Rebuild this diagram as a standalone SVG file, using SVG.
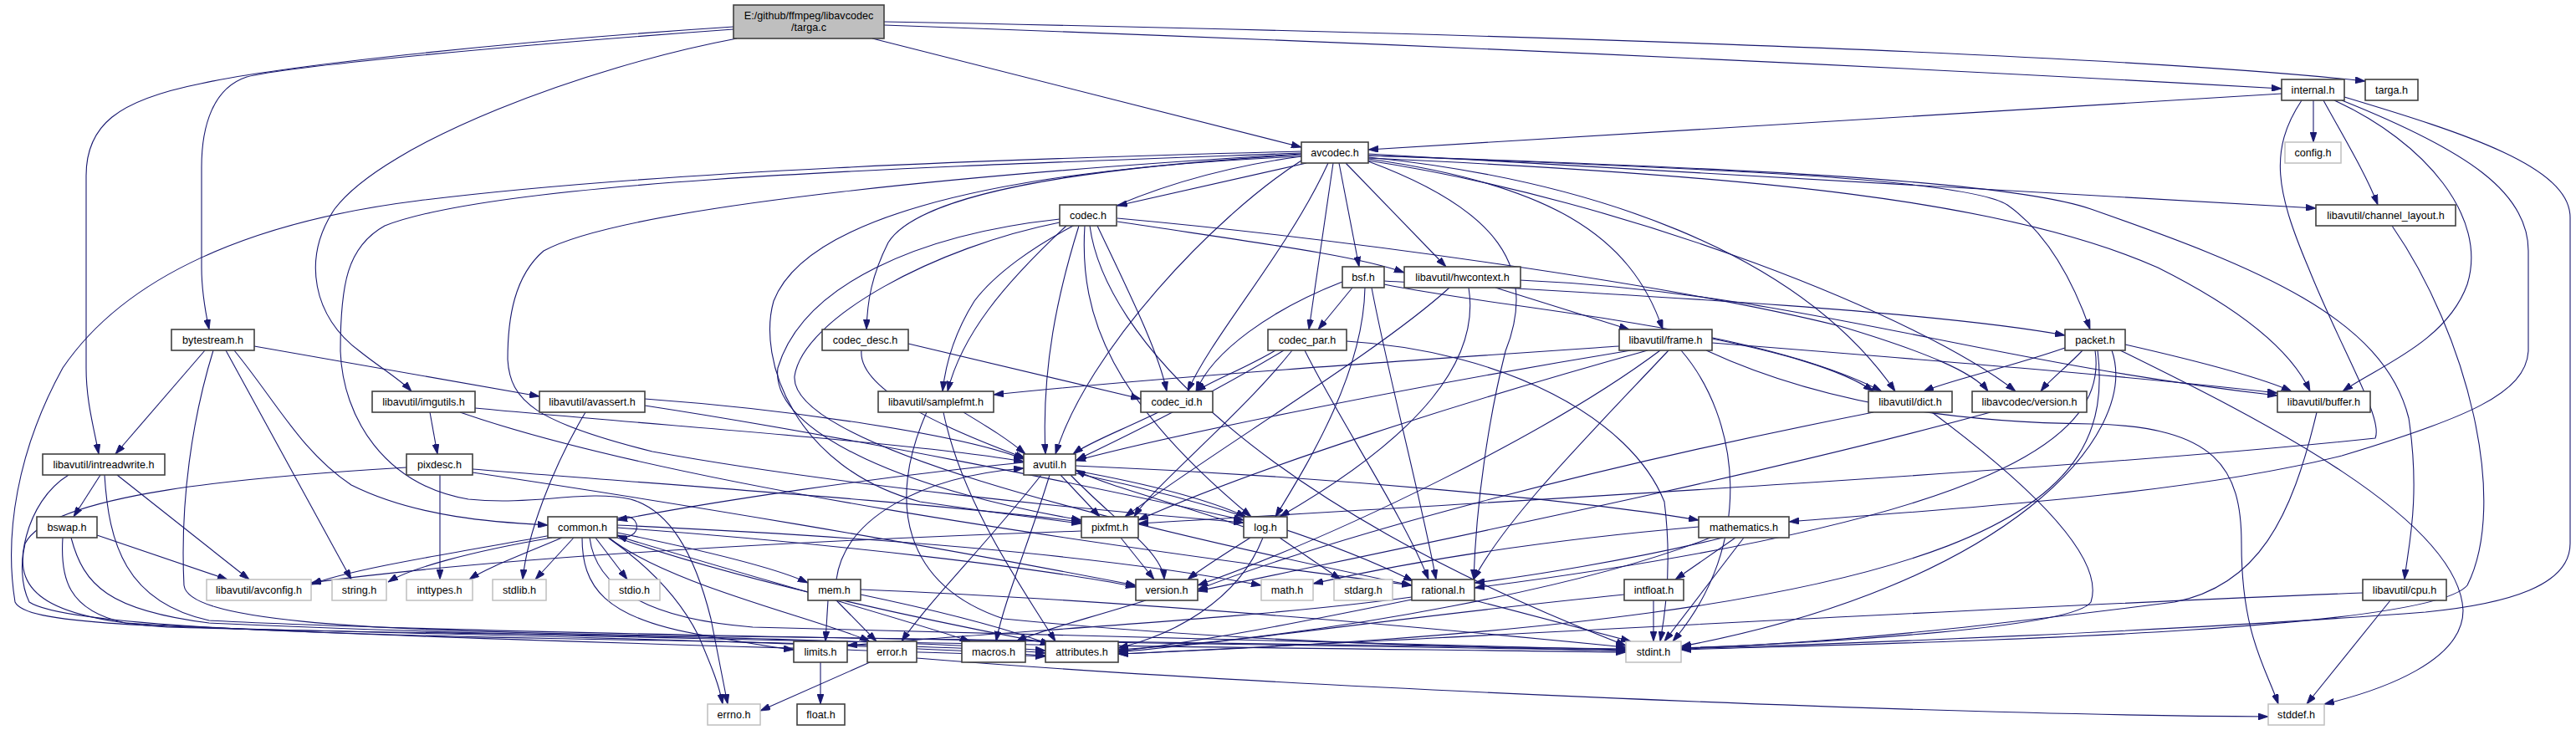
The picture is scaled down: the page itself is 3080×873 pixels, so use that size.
<svg xmlns="http://www.w3.org/2000/svg" width="3080" height="873" viewBox="0 0 3080 873">
<style>
.n rect{fill:#ffffff;stroke:#404040;stroke-width:1.6}
.g rect{fill:#ffffff;stroke:#bfbfbf;stroke-width:1.5}
.r rect{fill:#bfbfbf;stroke:#404040;stroke-width:1.6}
text{font-family:"Liberation Sans",Arial,sans-serif;font-size:12.6px;fill:#000;text-anchor:middle}
#edges path{fill:none;stroke:#191970;stroke-width:1.1;marker-end:url(#ah)}
</style>
<defs>
<marker id="ah" viewBox="0 0 12 8" refX="12" refY="4" markerWidth="12" markerHeight="8" markerUnits="userSpaceOnUse" orient="auto">
<path d="M0,0 L12,4 L0,8 z" fill="#191970" stroke="#191970" stroke-width="0.8"/>
</marker>
</defs>
<rect x="0" y="0" width="3080" height="873" fill="#ffffff"/>
<g id="edges">
<path d="M877,32 C600,50 330,80 240,100 C140,120 103,150 103,210 L103,440 C103,480 112,510 118,543"/>
<path d="M877,35 C600,55 340,80 295,92 C255,105 241,150 241,200 L241,320 C241,350 246,375 250,394"/>
<path d="M881,46 C700,80 460,170 400,250 C360,310 375,380 430,420 C455,440 480,455 492,468"/>
<path d="M1043,46 L1556,176"/>
<path d="M1057,30 Q1950,62 2728,106"/>
<path d="M1057,26 C1700,38 2500,62 2828,97"/>
<path d="M2728,112 L1636,179"/>
<path d="M2766,120 L2766,170"/>
<path d="M2778,120 C2800,160 2830,210 2843,245"/>
<path d="M2752,120 C2712,180 2722,230 2760,320 C2800,420 2850,500 2840,524 C2500,560 1800,600 1361,626"/>
<path d="M2791,120 C2900,170 2975,260 2950,340 C2925,410 2840,440 2801,468"/>
<path d="M2800,120 C2950,180 3023,230 3023,300 L3023,420 C3020,470 2950,500 2800,545 C2600,595 2300,610 2139,624"/>
<path d="M2803,116 C2950,160 3073,200 3073,260 L3073,650 C3073,700 3000,722 2900,732 C2600,755 2200,770 2010,776"/>
<path d="M1562,195 L1336,246"/>
<path d="M1601,195 L1625,319"/>
<path d="M1609,195 L1729,319"/>
<path d="M1594,195 L1565,394"/>
<path d="M1636,190 C1850,220 1950,280 1988,394"/>
<path d="M1636,186 C2000,200 2350,212 2400,245 C2450,280 2480,340 2499,394"/>
<path d="M1636,188 C1900,215 2150,300 2266,468"/>
<path d="M1636,186 C2050,200 2400,215 2500,250 C2700,320 2850,380 2880,500 C2895,600 2878,660 2875,693"/>
<path d="M1636,184 L2769,249"/>
<path d="M1636,189 C2100,210 2400,240 2580,320 C2680,370 2740,420 2762,468"/>
<path d="M1636,192 C1950,240 2300,380 2410,468"/>
<path d="M1556,185 C1300,200 1100,230 1062,290 C1042,330 1037,360 1036,394"/>
<path d="M1588,195 C1540,300 1450,400 1420,468"/>
<path d="M1556,187 C1350,215 1210,300 1165,360 C1140,400 1130,440 1127,468"/>
<path d="M1556,192 C1450,260 1300,420 1262,543"/>
<path d="M1556,181 C1200,190 780,205 500,240 C300,265 150,330 75,440 C20,540 5,640 18,720 C30,745 150,752 600,758 C900,762 1150,770 1250,778"/>
<path d="M1556,183 C1100,200 600,215 460,270 C415,295 407,340 407,420 C410,500 460,580 560,597 C640,605 700,585 754,597 C800,610 830,660 850,740 C860,790 866,820 870,842"/>
<path d="M1556,184 C1200,205 750,245 650,300 C615,330 607,380 607,430 C610,480 640,505 780,540 C1000,580 1300,610 1487,625"/>
<path d="M1556,187 C1150,205 960,270 925,360 C905,430 950,560 1100,600 C1200,615 1260,622 1293,626"/>
<path d="M1636,193 C1790,250 1840,320 1800,420 C1780,500 1765,600 1762,693"/>
<path d="M1336,265 C1500,290 1620,305 1679,326"/>
<path d="M1336,261 C1600,285 2000,340 2200,390 C2300,420 2360,445 2377,468"/>
<path d="M1275,270 C1200,340 1150,400 1133,468"/>
<path d="M1290,270 C1265,350 1245,440 1250,543"/>
<path d="M1312,270 C1350,350 1385,420 1395,468"/>
<path d="M1267,262 C1100,280 960,340 930,440 C920,520 1100,590 1293,622"/>
<path d="M1267,266 C1120,295 960,380 950,450 C945,530 1300,620 1688,700"/>
<path d="M1297,270 C1290,380 1330,480 1496,618"/>
<path d="M1303,270 C1320,400 1500,600 1944,772"/>
<path d="M1617,344 L1576,394"/>
<path d="M1605,337 C1520,370 1450,420 1430,468"/>
<path d="M1632,344 C1630,450 1560,560 1525,618"/>
<path d="M1640,344 C1660,450 1700,600 1717,693"/>
<path d="M1655,340 C1800,370 2100,390 2250,468"/>
<path d="M1655,336 C1900,350 2300,370 2469,401"/>
<path d="M1788,344 L1948,394"/>
<path d="M1817,335 C2150,350 2350,430 2723,473"/>
<path d="M1733,344 C1650,420 1450,540 1345,618"/>
<path d="M1756,344 C1770,430 1700,520 1530,618"/>
<path d="M1030,419 C1025,470 1150,520 1226,548"/>
<path d="M1086,411 L1364,477"/>
<path d="M1610,408 C1800,420 1950,500 1990,600 C2000,680 1990,740 1985,767"/>
<path d="M1535,419 C1450,470 1350,520 1287,550"/>
<path d="M1560,419 C1600,500 1680,620 1708,693"/>
<path d="M1545,419 C1480,500 1380,580 1356,618"/>
<path d="M1525,419 C1490,440 1450,455 1430,468"/>
<path d="M1936,414 C1700,430 1400,450 1188,472"/>
<path d="M1950,419 C1700,460 1400,520 1286,551"/>
<path d="M1970,419 C1750,480 1500,560 1361,622"/>
<path d="M1985,419 C1850,520 1600,640 1432,700"/>
<path d="M1995,419 C1900,520 1800,620 1762,693"/>
<path d="M2047,410 C2300,430 2550,450 2723,470"/>
<path d="M2047,405 C2120,420 2200,440 2240,468"/>
<path d="M2010,419 C2080,500 2100,650 2000,767"/>
<path d="M2040,419 C2150,470 2300,505 2500,507 C2650,510 2680,560 2680,650 C2680,760 2710,800 2724,842"/>
<path d="M2469,416 C2400,440 2330,455 2300,468"/>
<path d="M2490,419 C2470,440 2450,455 2440,468"/>
<path d="M2505,419 C2520,520 2400,620 1763,703"/>
<path d="M2508,419 C2530,600 2400,740 1337,782"/>
<path d="M2525,419 C2560,520 2400,700 2010,773"/>
<path d="M2535,419 C2700,500 2940,620 2945,730 C2945,790 2850,825 2779,842"/>
<path d="M2541,412 C2620,430 2700,450 2740,468"/>
<path d="M2860,270 C2950,400 3000,600 2950,700 C2900,760 2200,770 2010,777"/>
<path d="M514,493 L523,543"/>
<path d="M568,488 C800,510 1100,530 1224,552"/>
<path d="M550,493 C800,580 1300,650 1688,700"/>
<path d="M700,493 C660,560 630,640 625,693"/>
<path d="M771,477 C950,490 1150,520 1224,549"/>
<path d="M771,485 C1000,520 1300,580 1487,622"/>
<path d="M304,414 L645,474"/>
<path d="M245,419 L138,543"/>
<path d="M270,419 L420,693"/>
<path d="M280,419 C330,480 360,540 420,580 C500,620 600,625 655,628"/>
<path d="M255,419 C230,500 215,600 220,700 C225,740 400,755 800,760 C1300,765 1700,770 1944,776"/>
<path d="M120,568 L88,618"/>
<path d="M140,568 L298,693"/>
<path d="M125,568 C130,650 150,720 250,742 C600,760 1500,770 1944,778"/>
<path d="M82,568 C30,600 15,680 35,720 C80,750 400,760 800,766 C1000,770 1200,775 1250,781"/>
<path d="M116,640 L272,693"/>
<path d="M75,643 C72,690 80,730 150,745 C500,765 1000,775 1250,785"/>
<path d="M85,643 C100,700 130,730 250,745 C800,770 1600,775 1944,780"/>
<path d="M526,568 L526,693"/>
<path d="M486,559 C300,570 60,590 30,650 C15,710 60,740 200,750 C600,760 1000,768 1250,784"/>
<path d="M565,561 C800,580 1100,600 1293,624"/>
<path d="M565,565 C800,600 1100,650 1358,700"/>
<path d="M1152,493 C1180,510 1205,525 1226,543"/>
<path d="M1128,493 C1150,600 1220,700 1262,767"/>
<path d="M1108,493 C1060,600 1080,700 1200,740 C1500,770 1800,775 1944,778"/>
<path d="M1385,493 C1340,515 1300,530 1283,543"/>
<path d="M2310,493 C2400,560 2520,660 2500,720 C2480,750 2200,768 2010,775"/>
<path d="M2240,493 C1900,560 1600,640 1432,705"/>
<path d="M2380,493 C2100,570 1700,650 1432,707"/>
<path d="M2770,493 C2740,620 2700,700 2600,720 C2400,745 2200,770 2010,775"/>
<path d="M1224,553 C1050,570 850,600 738,622"/>
<path d="M1245,568 C1180,650 1110,720 1078,767"/>
<path d="M1255,568 C1230,650 1200,720 1191,767"/>
<path d="M1268,568 L1315,618"/>
<path d="M1286,563 C1380,580 1450,600 1490,618"/>
<path d="M1280,568 C1330,620 1390,660 1392,693"/>
<path d="M1286,557 C1600,570 1900,600 2031,622"/>
<path d="M1286,566 C1450,600 1600,650 1690,695"/>
<path d="M660,640 C550,660 420,680 372,699"/>
<path d="M660,643 C560,660 490,680 464,696"/>
<path d="M672,643 C620,665 580,680 561,693"/>
<path d="M686,643 L640,693"/>
<path d="M712,643 L750,693"/>
<path d="M738,620 C760,612 766,630 758,638 C752,643 745,643 738,640"/>
<path d="M727,643 C780,680 815,720 835,760 C852,800 860,820 864,842"/>
<path d="M696,643 C696,700 720,740 843,760 C900,770 930,775 949,777"/>
<path d="M738,628 C1000,640 1300,660 1508,700"/>
<path d="M738,631 C1000,650 1250,680 1358,702"/>
<path d="M738,637 C850,660 930,680 966,697"/>
<path d="M738,641 C900,690 1080,740 1160,767"/>
<path d="M738,643 C900,700 1150,750 1256,770"/>
<path d="M728,643 C800,700 980,740 1040,767"/>
<path d="M705,643 C712,700 770,740 900,750 C1300,762 1700,770 1944,777"/>
<path d="M1000,693 C1010,620 1100,570 1224,560"/>
<path d="M990,718 L987,767"/>
<path d="M1000,718 L1048,767"/>
<path d="M1029,711 C1120,730 1200,750 1256,771"/>
<path d="M1029,705 C1400,720 1800,760 1944,774"/>
<path d="M1370,718 C1300,740 1240,755 1215,767"/>
<path d="M1487,630 C1400,600 1320,580 1286,562"/>
<path d="M1530,643 L1603,693"/>
<path d="M1495,643 C1460,665 1430,685 1420,693"/>
<path d="M1510,643 C1480,720 1400,760 1337,775"/>
<path d="M1293,635 C1000,645 600,665 372,697"/>
<path d="M1340,643 L1380,693"/>
<path d="M2031,630 C1800,650 1650,680 1570,698"/>
<path d="M2060,643 C1950,670 1820,690 1763,697"/>
<path d="M2075,643 L2003,693"/>
<path d="M2085,643 L1990,767"/>
<path d="M2045,643 C1900,700 1600,760 1337,777"/>
<path d="M1763,718 L1950,767"/>
<path d="M1688,714 C1500,740 1200,755 1013,772"/>
<path d="M1688,717 C1550,745 1450,765 1337,779"/>
<path d="M1977,718 L1977,767"/>
<path d="M1942,711 C1700,735 1500,765 1337,780"/>
<path d="M2825,709 C2400,725 1800,760 1337,782"/>
<path d="M2858,718 L2758,842"/>
<path d="M1040,792 L909,850"/>
<path d="M1096,787 C1500,820 2300,855 2712,857"/>
<path d="M981,792 L981,842"/>
</g>
<g id="n_targa_c" class="r"><rect x="877" y="6" width="180" height="40"/><text x="967" y="23">E:/github/ffmpeg/libavcodec</text><text x="967" y="37">/targa.c</text></g>
<g id="n_internal_h" class="n"><rect x="2728" y="95" width="75" height="25"/><text x="2765.5" y="112">internal.h</text></g>
<g id="n_targa_h" class="n"><rect x="2828" y="95" width="63" height="25"/><text x="2859.5" y="112">targa.h</text></g>
<g id="n_avcodec_h" class="n"><rect x="1556" y="170" width="80" height="25"/><text x="1596" y="187">avcodec.h</text></g>
<g id="n_config_h" class="g"><rect x="2732" y="170" width="67" height="25"/><text x="2765.5" y="187">config.h</text></g>
<g id="n_channel_layout_h" class="n"><rect x="2769" y="245" width="167" height="25"/><text x="2852.5" y="262">libavutil/channel_layout.h</text></g>
<g id="n_codec_h" class="n"><rect x="1267" y="245" width="68" height="25"/><text x="1301" y="262">codec.h</text></g>
<g id="n_bsf_h" class="n"><rect x="1605" y="319" width="50" height="25"/><text x="1630" y="336">bsf.h</text></g>
<g id="n_hwcontext_h" class="n"><rect x="1679" y="319" width="139" height="25"/><text x="1748.5" y="336">libavutil/hwcontext.h</text></g>
<g id="n_bytestream_h" class="n"><rect x="205" y="394" width="99" height="25"/><text x="254.5" y="411">bytestream.h</text></g>
<g id="n_codec_desc_h" class="n"><rect x="983" y="394" width="103" height="25"/><text x="1034.5" y="411">codec_desc.h</text></g>
<g id="n_codec_par_h" class="n"><rect x="1516" y="394" width="94" height="25"/><text x="1563" y="411">codec_par.h</text></g>
<g id="n_frame_h" class="n"><rect x="1936" y="394" width="111" height="25"/><text x="1991.5" y="411">libavutil/frame.h</text></g>
<g id="n_packet_h" class="n"><rect x="2469" y="394" width="72" height="25"/><text x="2505" y="411">packet.h</text></g>
<g id="n_imgutils_h" class="n"><rect x="445" y="468" width="123" height="25"/><text x="506.5" y="485">libavutil/imgutils.h</text></g>
<g id="n_avassert_h" class="n"><rect x="645" y="468" width="126" height="25"/><text x="708" y="485">libavutil/avassert.h</text></g>
<g id="n_samplefmt_h" class="n"><rect x="1050" y="468" width="138" height="25"/><text x="1119" y="485">libavutil/samplefmt.h</text></g>
<g id="n_codec_id_h" class="n"><rect x="1364" y="468" width="86" height="25"/><text x="1407" y="485">codec_id.h</text></g>
<g id="n_dict_h" class="n"><rect x="2234" y="468" width="100" height="25"/><text x="2284" y="485">libavutil/dict.h</text></g>
<g id="n_lavc_version_h" class="n"><rect x="2358" y="468" width="137" height="25"/><text x="2426.5" y="485">libavcodec/version.h</text></g>
<g id="n_buffer_h" class="n"><rect x="2723" y="468" width="111" height="25"/><text x="2778.5" y="485">libavutil/buffer.h</text></g>
<g id="n_intreadwrite_h" class="n"><rect x="51" y="543" width="146" height="25"/><text x="124" y="560">libavutil/intreadwrite.h</text></g>
<g id="n_pixdesc_h" class="n"><rect x="486" y="543" width="79" height="25"/><text x="525.5" y="560">pixdesc.h</text></g>
<g id="n_avutil_h" class="n"><rect x="1224" y="543" width="62" height="25"/><text x="1255" y="560">avutil.h</text></g>
<g id="n_bswap_h" class="n"><rect x="44" y="618" width="72" height="25"/><text x="80" y="635">bswap.h</text></g>
<g id="n_common_h" class="n"><rect x="655" y="618" width="83" height="25"/><text x="696.5" y="635">common.h</text></g>
<g id="n_pixfmt_h" class="n"><rect x="1293" y="618" width="68" height="25"/><text x="1327" y="635">pixfmt.h</text></g>
<g id="n_log_h" class="n"><rect x="1487" y="618" width="52" height="25"/><text x="1513" y="635">log.h</text></g>
<g id="n_mathematics_h" class="n"><rect x="2031" y="618" width="108" height="25"/><text x="2085" y="635">mathematics.h</text></g>
<g id="n_avconfig_h" class="g"><rect x="247" y="693" width="125" height="25"/><text x="309.5" y="710">libavutil/avconfig.h</text></g>
<g id="n_string_h" class="g"><rect x="397" y="693" width="65" height="25"/><text x="429.5" y="710">string.h</text></g>
<g id="n_inttypes_h" class="g"><rect x="486" y="693" width="79" height="25"/><text x="525.5" y="710">inttypes.h</text></g>
<g id="n_stdlib_h" class="g"><rect x="589" y="693" width="64" height="25"/><text x="621" y="710">stdlib.h</text></g>
<g id="n_stdio_h" class="g"><rect x="728" y="693" width="61" height="25"/><text x="758.5" y="710">stdio.h</text></g>
<g id="n_mem_h" class="n"><rect x="966" y="693" width="63" height="25"/><text x="997.5" y="710">mem.h</text></g>
<g id="n_version_h" class="n"><rect x="1358" y="693" width="74" height="25"/><text x="1395" y="710">version.h</text></g>
<g id="n_math_h" class="g"><rect x="1508" y="693" width="62" height="25"/><text x="1539" y="710">math.h</text></g>
<g id="n_stdarg_h" class="g"><rect x="1595" y="693" width="70" height="25"/><text x="1630" y="710">stdarg.h</text></g>
<g id="n_rational_h" class="n"><rect x="1688" y="693" width="75" height="25"/><text x="1725.5" y="710">rational.h</text></g>
<g id="n_intfloat_h" class="n"><rect x="1942" y="693" width="71" height="25"/><text x="1977.5" y="710">intfloat.h</text></g>
<g id="n_cpu_h" class="n"><rect x="2825" y="693" width="100" height="25"/><text x="2875" y="710">libavutil/cpu.h</text></g>
<g id="n_limits_h" class="n"><rect x="949" y="767" width="64" height="25"/><text x="981" y="784">limits.h</text></g>
<g id="n_error_h" class="n"><rect x="1037" y="767" width="59" height="25"/><text x="1066.5" y="784">error.h</text></g>
<g id="n_macros_h" class="n"><rect x="1150" y="767" width="76" height="25"/><text x="1188" y="784">macros.h</text></g>
<g id="n_attributes_h" class="n"><rect x="1250" y="767" width="87" height="25"/><text x="1293.5" y="784">attributes.h</text></g>
<g id="n_stdint_h" class="g"><rect x="1944" y="767" width="66" height="25"/><text x="1977" y="784">stdint.h</text></g>
<g id="n_errno_h" class="g"><rect x="846" y="842" width="63" height="25"/><text x="877.5" y="859">errno.h</text></g>
<g id="n_float_h" class="n"><rect x="953" y="842" width="57" height="25"/><text x="981.5" y="859">float.h</text></g>
<g id="n_stddef_h" class="g"><rect x="2712" y="842" width="67" height="25"/><text x="2745.5" y="859">stddef.h</text></g>
</svg>
